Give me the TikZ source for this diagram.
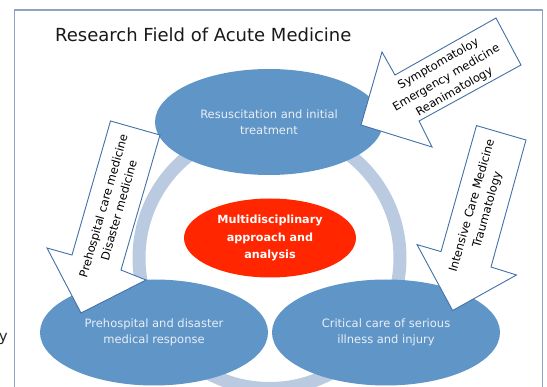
\documentclass[tikz,border=0pt]{standalone}
\usepackage{fontspec}
\setmainfont{DejaVu Sans}
\usetikzlibrary{shapes.geometric}
\definecolor{framec}{RGB}{143,163,192}
\definecolor{ringc}{RGB}{186,202,225}
\definecolor{ellc}{RGB}{96,150,199}
\definecolor{redc}{RGB}{255,38,0}
\definecolor{arrowc}{RGB}{66,112,168}
\definecolor{elltext}{RGB}{232,238,246}
\begin{document}
\begin{tikzpicture}[x=1pt,y=-1pt,
  blueell/.style={ellipse,fill=ellc,inner sep=0pt,minimum width=228pt,minimum height=106pt,
    text=elltext,align=center,font=\fontsize{11.5}{16}\selectfont},
  blockarrow/.style={draw=arrowc,fill=white,line width=0.9pt,line join=miter},
  arrowtext/.style={align=center,text=black,font=\fontsize{11.5}{16}\selectfont}]
\useasboundingbox (0,0) rectangle (547,387);
% frame
\draw[framec,line width=1.3pt] (14.5,395) -- (14.5,10) -- (542.5,10) -- (542.5,395);
\node[anchor=base east,font=\fontsize{15}{16}\selectfont,text=black!85,inner sep=0pt] (ycut) at (8,342) {y};
% title
\node[anchor=base west,inner sep=0pt,font=\fontsize{18}{20}\selectfont,text=black!90] (title) at (55,42) {Research Field of Acute Medicine};
% ring
\draw[ringc,line width=13pt] (269.5,258) circle[radius=130.5pt];
% ellipses
\node[blueell] (top) at (269,122) {Resuscitation and initial\\treatment};
\node[blueell] (bl) at (154,332.5) {Prehospital and disaster\\medical response};
\node[blueell] (br) at (386,332.5) {Critical care of serious\\illness and injury};
\node[ellipse,fill=redc,inner sep=0pt,minimum width=172pt,minimum height=79pt,text=white,align=center,
  font=\bfseries\fontsize{11.2}{17.5}\selectfont] (center) at (270,238) {Multidisciplinary\\approach and\\analysis};
% block arrows
\draw[blockarrow] (361,125) -- (382,52) -- (395,75) -- (496,18) -- (521,65) -- (419,121) -- (432,147) -- cycle;
\draw[blockarrow] (81,313) -- (47,248) -- (72,255) -- (110.5,121) -- (160,135) -- (121,270) -- (146,280) -- cycle;
\draw[blockarrow] (452.6,310.5) -- (417,244.6) -- (441,251.6) -- (476.5,125.6) -- (526,140) -- (491,267) -- (516.5,275) -- cycle;
% arrow texts
\node[arrowtext,rotate=30] (t1) at (446.5,78) {Symptomatoloy\\Emergency medicine\\Reanimatology};
\node[arrowtext,rotate=74] (t2) at (111,208) {Prehospital care medicine\\Disaster medicine};
\node[arrowtext,rotate=74] (t3) at (480,208) {Intensive Care Medicine\\Traumatology};
\end{tikzpicture}
\end{document}
